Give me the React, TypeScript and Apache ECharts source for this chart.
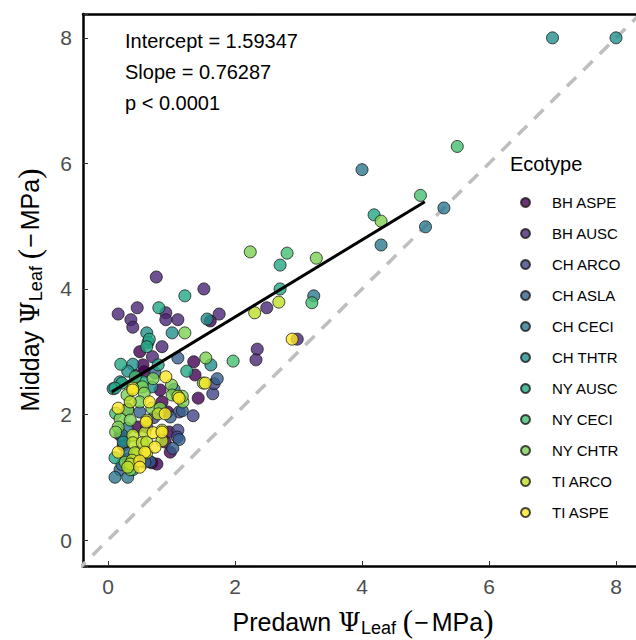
import React, { useEffect, useRef } from "react";
import * as echarts from "echarts";

const ecotypes = ["BH ASPE", "BH AUSC", "CH ARCO", "CH ASLA", "CH CECI", "CH THTR", "NY AUSC", "NY CECI", "NY CHTR", "TI ARCO", "TI ASPE"];
const colors = ["#440154", "#482576", "#414487", "#35608D", "#2A788E", "#21908C", "#22A884", "#43BF71", "#7AD151", "#BBDF27", "#FDE725"];

const bhAspe = [[0.50,3.00],[1.35,2.84],[0.55,2.79],[1.42,2.26],[0.85,2.20],[0.82,2.39],[0.24,1.51],[0.47,1.80],[0.90,1.56],[0.98,1.40],[0.77,1.21],[0.69,1.23],[0.94,2.04],[1.37,2.63],[0.57,2.68],[1.61,3.49],[0.19,1.67],[0.44,2.62],[0.96,1.72]];
const bhAusc = [[0.76,4.19],[1.51,4.00],[0.16,3.60],[0.46,3.70],[0.91,3.62],[0.36,3.51],[0.39,3.39],[0.91,3.51],[1.10,3.51],[1.75,3.60],[2.50,3.70],[2.98,3.20],[2.35,3.04],[2.33,2.87],[0.85,3.08],[0.70,2.92]];
const chArco = [[1.65,2.33],[1.10,1.75],[1.34,1.98],[1.12,2.04],[0.61,1.80],[1.09,1.64],[0.31,1.29],[1.67,2.49],[0.72,1.95]];
const chAsla = [[1.72,2.57],[1.10,2.90],[0.74,2.66],[0.50,2.04],[0.98,1.96],[1.12,1.60],[1.02,1.46],[0.66,1.25],[0.19,1.12],[0.58,1.24],[0.31,2.09],[1.17,2.06],[0.26,1.60]];
const chCeci = [[4.00,5.90],[5.29,5.29],[5.00,4.99],[4.30,4.70],[3.24,3.89],[1.04,2.40],[0.30,1.78],[0.22,1.67],[0.30,1.38],[0.11,1.00],[0.31,1.00],[0.22,1.20]];
const chThtr = [[7.00,8.00],[8.00,8.00],[1.56,3.52],[1.62,2.79],[0.61,3.30],[1.01,3.30],[0.63,3.15],[0.39,2.80],[0.31,2.69],[0.08,2.41],[0.19,2.52],[0.69,2.44],[0.24,1.56]];
const nyAusc = [[4.19,5.18],[2.71,4.38],[2.71,4.00],[1.21,3.89],[0.80,3.70],[0.65,3.20],[0.61,3.08],[0.20,2.80],[0.79,2.79],[1.24,2.69],[0.22,2.50],[0.11,2.42],[0.55,2.52],[0.11,1.31],[0.39,1.12]];
const nyCeci = [[5.50,6.27],[4.92,5.49],[3.21,3.78],[1.97,2.85],[2.82,4.57],[0.43,2.60],[0.12,2.02]];
const nyChtr = [[4.30,5.08],[2.24,4.59],[3.28,4.49],[1.21,3.30],[1.54,2.90],[1.50,2.50],[0.54,2.44],[1.00,2.47],[0.30,2.31],[0.57,2.34],[1.01,2.31],[1.18,2.20],[1.17,2.29],[0.50,2.20],[0.31,2.07],[0.69,2.10],[0.82,2.10],[0.19,1.93],[0.35,1.91],[0.16,1.80],[0.46,1.40],[0.27,1.24],[0.35,1.12],[0.71,2.57],[0.12,1.72]];
const tiArco = [[2.31,3.62],[2.69,3.79],[0.39,2.42],[1.10,2.29],[0.35,2.20],[0.79,2.01],[0.61,1.91],[0.85,1.75],[0.39,1.67],[0.58,1.71],[0.39,1.55],[0.54,1.55],[0.61,1.56],[0.42,1.39],[0.61,1.39],[0.38,1.27],[0.35,1.21],[0.31,1.16],[0.85,1.58]];
const tiAspe = [[2.90,3.20],[1.53,2.50],[0.91,2.60],[0.39,2.39],[0.65,2.20],[0.16,2.10],[0.90,2.01],[0.60,1.88],[0.71,1.71],[0.85,1.72],[0.74,1.48],[0.16,1.40],[0.58,1.40],[0.50,1.26],[0.50,1.16],[1.12,2.26]];

const groups = [bhAspe, bhAusc, chArco, chAsla, chCeci, chThtr, nyAusc, nyCeci, nyChtr, tiArco, tiAspe];

const regX = [0.06, 4.99];
const regY = [2.36, 5.39];
const oneToOne = [-0.5, 8.6];

const statLines = ["Intercept = 1.59347", "Slope = 0.76287", "p < 0.0001"];

const X_MIN = -0.394, X_MAX = 8.425, Y_MIN = -0.414, Y_MAX = 8.38;
const FONT = "Liberation Sans, Arial, sans-serif";

const nameRich = {
  t: { fontSize: 25, fontFamily: FONT, color: "#000" },
  g: { fontSize: 26, fontFamily: "DejaVu Serif", color: "#000" },
  s: { fontSize: 18, fontFamily: FONT, color: "#000", padding: [13, 0, 0, 0] },
  m: { fontSize: 25, fontFamily: FONT, color: "#000", padding: [0, 3, 0, 1] },
  p: { fontSize: 31, fontFamily: "Liberation Serif", color: "#000" },
};

const tickFmt = (v: number) => (Math.abs(v / 2 - Math.round(v / 2)) < 1e-6 ? String(Math.round(v)) : "");

export default function App() {
  const ref = useRef<HTMLDivElement>(null);
  useEffect(() => {
    if (!ref.current) return;
    const chart = echarts.init(ref.current, null, { renderer: "svg" });
    const scatterSeries = ecotypes.map((name, i) => ({
      type: "scatter",
      name,
      data: groups[i],
      symbolSize: 12,
      z: 3,
      itemStyle: { color: colors[i], opacity: 0.8, borderColor: "#1a1a1a", borderWidth: 1 },
    }));
    const option = {
      animation: false,
      grid: { left: 83, top: 14, width: 560, height: 552, outerBoundsMode: "none", containLabel: false },
      title: {
        text: "Ecotype",
        left: 510,
        top: 154,
        padding: 0,
        textStyle: { fontSize: 20, fontWeight: "normal", color: "#000", fontFamily: FONT },
      },
      legend: {
        orient: "vertical",
        left: 520,
        top: 195,
        padding: 0,
        itemWidth: 9,
        itemHeight: 9,
        itemGap: 16,
        icon: "circle",
        data: ecotypes,
        textStyle: { fontSize: 15, color: "#000", fontFamily: FONT, padding: [0, 0, 0, 17] },
      },
      xAxis: [
        {
          type: "value",
          min: X_MIN,
          max: X_MAX,
          splitNumber: 5,
          axisLine: { onZero: false, lineStyle: { color: "#000", width: 2.5 } },
          axisTick: { inside: true, length: 5, lineStyle: { color: "#333", width: 1 } },
          axisLabel: { color: "#4d4d4d", fontSize: 21, fontFamily: FONT, margin: 10, formatter: tickFmt },
          splitLine: { show: false },
          name: "{t|Predawn }{g|Ψ}{s|Leaf}{t| }{p|(}{m|−}{t|MPa}{p|)}",
          nameLocation: "middle",
          nameGap: 40,
          nameTextStyle: { rich: nameRich },
        },
        {
          type: "value",
          position: "top",
          min: X_MIN,
          max: X_MAX,
          axisLine: { show: true, onZero: false, lineStyle: { color: "#000", width: 2.5 } },
          axisTick: { show: false },
          axisLabel: { show: false },
          splitLine: { show: false },
        },
      ],
      yAxis: {
        type: "value",
        min: Y_MIN,
        max: Y_MAX,
        splitNumber: 5,
        axisLine: { onZero: false, lineStyle: { color: "#000", width: 2.5 } },
        axisTick: { inside: true, length: 5, lineStyle: { color: "#333", width: 1 } },
        axisLabel: { color: "#4d4d4d", fontSize: 21, fontFamily: FONT, margin: 11, formatter: tickFmt },
        splitLine: { show: false },
        name: "{t|Midday }{g|Ψ}{s|Leaf}{t| }{p|(}{m|−}{t|MPa}{p|)}",
        nameLocation: "middle",
        nameGap: 38,
        nameRotate: 90,
        nameTextStyle: { rich: nameRich },
      },
      graphic: statLines.map((t, i) => ({
        type: "text",
        x: 125,
        y: 41 + i * 31,
        style: { text: t, fontSize: 20, fill: "#000", fontFamily: FONT, verticalAlign: "middle" },
        z: 10,
      })),
      series: [
        {
          type: "line",
          name: "1:1",
          data: oneToOne.map((v) => [v, v]),
          showSymbol: false,
          silent: true,
          z: 1,
          lineStyle: { color: "#bebebe", width: 3.5, type: [13, 10] },
        },
        ...scatterSeries,
        {
          type: "line",
          name: "fit",
          data: regX.map((x, i) => [x, regY[i]]),
          showSymbol: false,
          silent: true,
          z: 5,
          lineStyle: { color: "#000", width: 3 },
        },
      ],
    };
    chart.setOption(option as any);
    return () => chart.dispose();
  }, []);
  return <div ref={ref} style={{ position: "absolute", left: 0, top: 0, width: 636, height: 640, overflow: "hidden" }} />;
}
